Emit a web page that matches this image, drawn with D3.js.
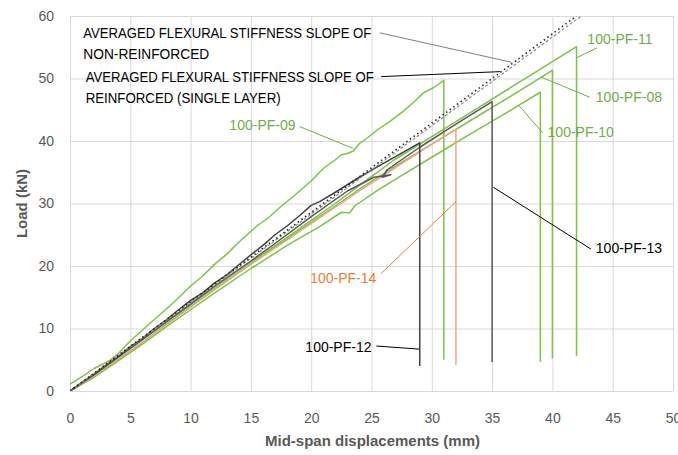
<!DOCTYPE html>
<html>
<head>
<meta charset="utf-8">
<script src="https://cdn.jsdelivr.net/npm/d3@7"></script>
<style>
  body { margin: 0; background: #fff; }
  text { font-family: "Liberation Sans", Arial, sans-serif; }
</style>
</head>
<body>
<div id="chart"></div>
<script>
// tick values
var xTicks = [0, 5, 10, 15, 20, 25, 30, 35, 40, 45, 50];
var yTicks = [0, 10, 20, 30, 40, 50, 60];

// load-displacement curves (mm, kN)
var pf09X = [0, 1, 2, 3.3, 4, 5, 6.5, 8.5, 10, 11, 12, 13, 14, 15.5, 16.5, 17.3, 18.8, 20, 21, 22, 22.5, 23, 23.5, 24, 24.6, 25.5, 26.5, 27.6, 28.5, 29.3, 30.2, 31, 31];
var pf09Y = [1.1, 2.3, 3.6, 4.9, 6.0, 8.0, 10.6, 14.0, 16.8, 18.4, 20.3, 21.9, 23.8, 26.4, 27.8, 29.2, 31.6, 33.6, 35.6, 37.0, 37.8, 38.0, 38.4, 39.6, 40.4, 41.8, 43.1, 44.7, 46.2, 47.7, 48.6, 49.7, 5.0];

var pf11X = [0, 2, 3.5, 4.5, 6, 8, 10, 12, 15, 17.5, 20, 22, 24, 26.9, 30, 34, 38, 42, 42];
var pf11Y = [0, 2.4, 4.7, 6.2, 8.2, 11.0, 13.8, 16.6, 20.6, 23.9, 27.3, 30.0, 32.9, 37.0, 40.7, 45.5, 50.3, 55.1, 5.6];

var pf08X = [0, 2, 4, 6, 8, 10, 12, 15, 18, 20, 22, 24, 26.9, 30, 34, 37, 40, 40];
var pf08Y = [0, 2.3, 5.0, 7.8, 10.7, 13.5, 16.3, 20.3, 24.3, 27.0, 29.6, 32.3, 35.9, 39.5, 44.2, 47.7, 51.3, 5.2];

var pf10X = [0, 2, 4, 6, 8, 10, 12, 15, 18, 20.7, 22.5, 23.2, 23.6, 25.5, 27.35, 30, 33, 36, 39, 39];
var pf10Y = [0, 2.2, 4.8, 7.5, 10.3, 13.0, 15.7, 19.6, 23.3, 26.3, 28.6, 28.5, 29.6, 32.1, 34.3, 37.4, 40.9, 44.3, 47.8, 4.7];

var pf12X = [0, 1, 2, 3, 4, 5, 6, 7, 8, 9, 10, 11, 12, 13, 14, 15, 16, 17, 18, 19, 20, 20.7, 22, 24, 25.7, 27.35, 29, 29];
var pf12Y = [0, 1.4, 2.7, 4.2, 5.5, 7.1, 8.4, 10.0, 11.4, 13.0, 14.5, 15.7, 17.3, 18.6, 20.2, 21.8, 23.3, 25.0, 26.4, 28.0, 29.7, 30.3, 31.8, 34.2, 36.1, 37.9, 39.7, 4.0];

var pf13X = [0, 2, 4, 6, 8, 10, 12, 15, 17, 20, 23, 25.2, 26.6, 25.9, 26.3, 29, 32, 35, 35];
var pf13Y = [0, 2.6, 5.4, 8.2, 11.1, 13.9, 16.8, 20.8, 23.6, 27.9, 32.0, 34.2, 34.6, 34.2, 35.4, 39.0, 42.7, 46.3, 4.65];

var pf14X = [0, 2, 4, 6, 8, 10, 12, 15, 18.2, 20, 22, 24, 27.35, 30, 32, 32];
var pf14Y = [0, 2.4, 5.1, 7.8, 10.6, 13.4, 16.2, 20.3, 24.4, 26.8, 29.4, 32.0, 36.2, 39.5, 41.9, 4.2];

// averaged stiffness slopes
var avgNonX = [0, 42];
var avgNonY = [0, 60];
var avgRefX = [0, 42.4];
var avgRefY = [0, 60];

var green = "#7dc346", greenText = "#70ad47";
var series = [
    { name: "100-PF-09", xs: pf09X, ys: pf09Y, color: green },
    { name: "100-PF-11", xs: pf11X, ys: pf11Y, color: green },
    { name: "100-PF-08", xs: pf08X, ys: pf08Y, color: green },
    { name: "100-PF-10", xs: pf10X, ys: pf10Y, color: green },
    { name: "100-PF-14", xs: pf14X, ys: pf14Y, color: "#f2a385" },
    { name: "100-PF-13", xs: pf13X, ys: pf13Y, color: "#595959" },
    { name: "100-PF-12", xs: pf12X, ys: pf12Y, color: "#404040" }
];

// label text anchor point, leader start and end (data units)
var labels = [
    { text: "100-PF-11", at: [42.9, 55.5], from: [43.7, 54.9], to: [42.0, 53.3], color: greenText, line: greenText, anchor: "start" },
    { text: "100-PF-08", at: [43.6, 46.3], from: [43.1, 47.0], to: [39.1, 50.2], color: greenText, line: greenText, anchor: "start" },
    { text: "100-PF-10", at: [39.6, 40.7], from: [39.2, 41.3], to: [37.25, 45.6], color: greenText, line: greenText, anchor: "start" },
    { text: "100-PF-13", at: [43.6, 22.1], from: [43.2, 22.7], to: [35.1, 32.6], color: "#000", line: "#000", anchor: "start" },
    { text: "100-PF-14", at: [25.4, 17.3], from: [25.8, 18.8], to: [32.0, 30.3], color: "#ed7d31", line: "#ed7d31", anchor: "end" },
    { text: "100-PF-12", at: [25.0, 6.3], from: [25.4, 7.2], to: [28.95, 6.7], color: "#000", line: "#000", anchor: "end" },
    { text: "100-PF-09", at: [18.7, 41.8], from: [19.05, 42.3], to: [23.5, 38.8], color: greenText, line: greenText, anchor: "end" }
];

var margin = { top: 16, right: 5, bottom: 64, left: 70 },
    width = 678 - margin.left - margin.right,
    height = 455 - margin.top - margin.bottom;

var svg = d3.select("#chart")
    .append("svg")
    .attr("width", 678)
    .attr("height", 455)
    .append("g")
    .attr("transform", "translate(" + margin.left + "," + margin.top + ")");

var x = d3.scaleLinear().domain([0, 50]).range([0, width]);
var y = d3.scaleLinear().domain([0, 60]).range([height, 0]);

// gridlines + tick labels
var xAxis = svg.append("g")
    .attr("transform", "translate(0," + height + ")")
    .call(d3.axisBottom(x).tickValues(xTicks).tickSize(-height).tickPadding(22));
var yAxis = svg.append("g")
    .call(d3.axisLeft(y).tickValues(yTicks).tickSize(-width).tickPadding(16));

[xAxis, yAxis].forEach(function (g) {
    g.select(".domain").remove();
    g.selectAll(".tick line").attr("stroke", "#d9d9d9");
    g.selectAll(".tick text")
        .attr("fill", "#595959")
        .style("font-size", "14px")
        .style("font-family", "'Liberation Sans', Arial, sans-serif");
});

svg.append("clipPath").attr("id", "plotclip")
    .append("rect").attr("width", width).attr("height", height);

var plot = svg.append("g").attr("clip-path", "url(#plotclip)");

var line = d3.line()
    .x(function (d) { return x(d[0]); })
    .y(function (d) { return y(d[1]); });

function pairs(xs, ys) { return xs.map(function (v, i) { return [v, ys[i]]; }); }

series.forEach(function (s) {
    plot.append("path")
        .datum(pairs(s.xs, s.ys))
        .attr("d", line)
        .attr("fill", "none")
        .attr("stroke", s.color)
        .attr("stroke-width", 1.5)
        .attr("stroke-linejoin", "round");
});

// averaged slopes (dotted)
plot.append("path")
    .datum(pairs(avgRefX, avgRefY))
    .attr("d", line)
    .attr("fill", "none")
    .attr("stroke", "#8c8c8c")
    .attr("stroke-width", 1.2)
    .attr("stroke-dasharray", "3,2");
plot.append("path")
    .datum(pairs(avgNonX, avgNonY))
    .attr("d", line)
    .attr("fill", "none")
    .attr("stroke", "#262626")
    .attr("stroke-width", 1.6)
    .attr("stroke-dasharray", "1.5,3");

// leaders and labels
labels.forEach(function (l) {
    svg.append("line")
        .attr("x1", x(l.from[0])).attr("y1", y(l.from[1]))
        .attr("x2", x(l.to[0])).attr("y2", y(l.to[1]))
        .attr("stroke", l.line)
        .attr("stroke-width", 1);
    svg.append("text")
        .attr("x", x(l.at[0]))
        .attr("y", y(l.at[1]))
        .attr("text-anchor", l.anchor)
        .attr("fill", l.color)
        .style("font-size", "14px")
        .text(l.text);
});

// averaged slope annotations
var notes = [
    { lines: ["AVERAGED FLEXURAL STIFFNESS SLOPE OF", "NON-REINFORCED"], lens: [288, 126], at: [1.1, 56.5], from: [25.7, 57.3], to: [36.6, 52.6], line: "#7f7f7f" },
    { lines: ["AVERAGED FLEXURAL STIFFNESS SLOPE OF", "REINFORCED (SINGLE LAYER)"], lens: [288, 195], at: [1.3, 49.4], from: [25.8, 50.3], to: [35.65, 51.1], line: "#000" }
];
notes.forEach(function (n) {
    svg.append("line")
        .attr("x1", x(n.from[0])).attr("y1", y(n.from[1]))
        .attr("x2", x(n.to[0])).attr("y2", y(n.to[1]))
        .attr("stroke", n.line)
        .attr("stroke-width", 1);
    n.lines.forEach(function (t, i) {
        svg.append("text")
            .attr("x", x(n.at[0]))
            .attr("y", y(n.at[1]) + i * 21)
            .attr("fill", "#000")
            .attr("textLength", n.lens[i])
            .attr("lengthAdjust", "spacingAndGlyphs")
            .style("font-size", "15px")
            .text(t);
    });
});

// axis titles
svg.append("text")
    .attr("x", width / 2 + 1)
    .attr("y", height + 55)
    .attr("text-anchor", "middle")
    .attr("fill", "#595959")
    .style("font-size", "15px")
    .style("font-weight", "bold")
    .text("Mid-span displacements (mm)");

svg.append("text")
    .attr("transform", "rotate(-90)")
    .attr("x", -height / 2)
    .attr("y", -43)
    .attr("text-anchor", "middle")
    .attr("fill", "#595959")
    .style("font-size", "15px")
    .style("font-weight", "bold")
    .text("Load  (kN)");
</script>
</body>
</html>
